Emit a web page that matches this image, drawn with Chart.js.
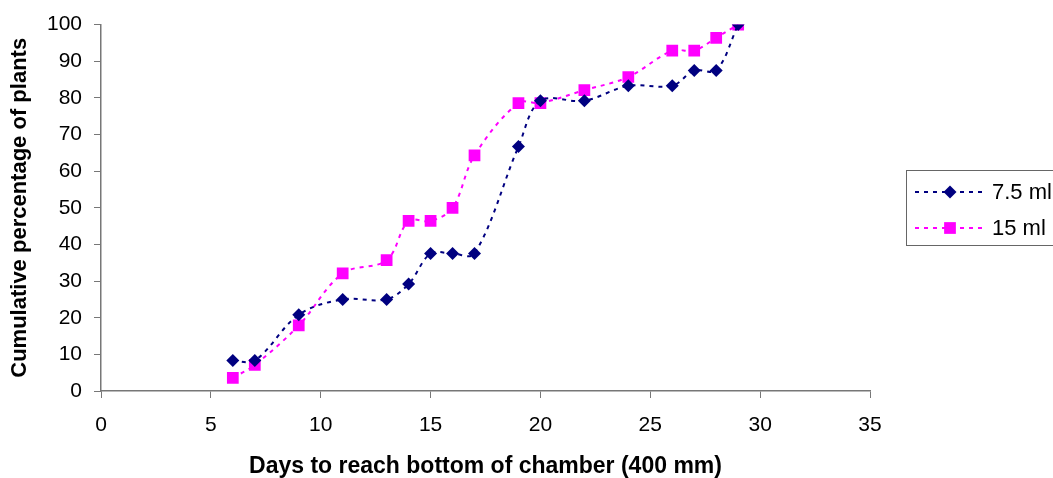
<!DOCTYPE html>
<html>
<head>
<meta charset="utf-8">
<script src="https://cdn.jsdelivr.net/npm/chart.js@4.4.1/dist/chart.umd.min.js"></script>
<style>
  html, body { margin: 0; padding: 0; background: #fff; }
  #wrap { width: 1053px; height: 478px; }
</style>
</head>
<body>
<div id="wrap"><canvas id="chart" width="1053" height="478"></canvas></div>
<script>
// days to reach bottom of chamber
const days = [6, 7, 9, 11, 13, 14, 15, 16, 17, 19, 20, 22, 24, 26, 27, 28, 29];
// cumulative percentage of plants
const pct75 = [8.3, 8.3, 20.8, 25, 25, 29.2, 37.5, 37.5, 37.5, 66.7, 79.2, 79.2, 83.3, 83.3, 87.5, 87.5, 100];
const pct15 = [3.6, 7.1, 17.9, 32.1, 35.7, 46.4, 46.4, 50, 64.3, 78.6, 78.6, 82.1, 85.7, 92.9, 92.9, 96.4, 100];
const seriesNames = ['7.5 ml', '15 ml'];

const FONT = "'Liberation Sans', Arial, sans-serif";
const AXIS_COLOR = '#777';

function toPoints(xs, ys) {
    return xs.map((x, i) => ({ x: x, y: ys[i] }));
}

// legend box drawn in the right padding, line + marker like the original
const sideLegend = {
    id: 'sideLegend',
    afterDraw(chart) {
        const ctx = chart.ctx;
        const left = 906, top = 170, height = 75;
        ctx.save();
        ctx.strokeStyle = '#666';
        ctx.lineWidth = 1;
        ctx.strokeRect(left + 0.5, top + 0.5, 200, height);

        const rows = [192, 228];
        chart.data.datasets.forEach((ds, i) => {
            const y = rows[i];
            ctx.strokeStyle = ds.borderColor;
            ctx.lineWidth = ds.borderWidth;
            ctx.setLineDash(ds.borderDash);
            ctx.beginPath();
            ctx.moveTo(915, y);
            ctx.lineTo(983, y);
            ctx.stroke();
            ctx.setLineDash([]);

            ctx.fillStyle = ds.pointBackgroundColor;
            const cx = 950;
            if (ds.pointStyle === 'rectRot') {
                const r = ds.pointRadius;
                ctx.beginPath();
                ctx.moveTo(cx, y - r);
                ctx.lineTo(cx + r, y);
                ctx.lineTo(cx, y + r);
                ctx.lineTo(cx - r, y);
                ctx.closePath();
                ctx.fill();
            } else {
                const s = ds.pointRadius * Math.SQRT1_2;
                ctx.fillRect(cx - s, y - s, 2 * s, 2 * s);
            }

            ctx.fillStyle = '#000';
            ctx.font = '22px ' + FONT;
            ctx.textBaseline = 'middle';
            ctx.textAlign = 'left';
            ctx.fillText(ds.label, 992, y + 1);
        });
        ctx.restore();
    }
};

const ctx = document.getElementById('chart').getContext('2d');
new Chart(ctx, {
    type: 'line',
    data: {
        datasets: [
            {
                label: seriesNames[0],
                data: toPoints(days, pct75),
                borderColor: '#000080',
                backgroundColor: '#000080',
                pointBackgroundColor: '#000080',
                pointBorderWidth: 0,
                pointStyle: 'rectRot',
                pointRadius: 6.5,
                borderWidth: 2,
                borderDash: [4, 5],
                tension: 0.35,
                fill: false
            },
            {
                label: seriesNames[1],
                data: toPoints(days, pct15),
                borderColor: '#FF00FF',
                backgroundColor: '#FF00FF',
                pointBackgroundColor: '#FF00FF',
                pointBorderWidth: 0,
                pointStyle: 'rect',
                pointRadius: 8.3,
                borderWidth: 2,
                borderDash: [4, 5],
                tension: 0.35,
                fill: false
            }
        ]
    },
    options: {
        responsive: false,
        animation: false,
        layout: {
            padding: { left: 0, top: 24, right: 183, bottom: 0 }
        },
        plugins: {
            legend: { display: false },
            tooltip: { enabled: false }
        },
        scales: {
            x: {
                type: 'linear',
                min: 0,
                max: 35,
                ticks: {
                    stepSize: 5,
                    color: '#000',
                    padding: 15,
                    maxRotation: 0,
                    font: { family: FONT, size: 21 }
                },
                grid: {
                    drawOnChartArea: false,
                    drawTicks: true,
                    tickLength: 7,
                    color: AXIS_COLOR
                },
                border: { color: AXIS_COLOR, width: 1.5 },
                title: {
                    display: true,
                    text: 'Days to reach bottom of chamber (400 mm)',
                    color: '#000',
                    font: { family: FONT, size: 23, weight: 'bold', lineHeight: 1 },
                    padding: { top: 0, bottom: 0 }
                },
                afterFit(scale) { scale.height = 87; }
            },
            y: {
                min: 0,
                max: 100,
                ticks: {
                    stepSize: 10,
                    color: '#000',
                    padding: 12,
                    font: { family: FONT, size: 21 }
                },
                grid: {
                    drawOnChartArea: false,
                    drawTicks: true,
                    tickLength: 7,
                    color: AXIS_COLOR
                },
                border: { color: AXIS_COLOR, width: 1.5 },
                title: {
                    display: true,
                    text: 'Cumulative percentage of plants',
                    color: '#000',
                    font: { family: FONT, size: 22, weight: 'bold', lineHeight: 1 },
                    padding: { top: 9, bottom: 0 }
                },
                afterFit(scale) { scale.width = 101; }
            }
        }
    },
    plugins: [sideLegend]
});
</script>
</body>
</html>
